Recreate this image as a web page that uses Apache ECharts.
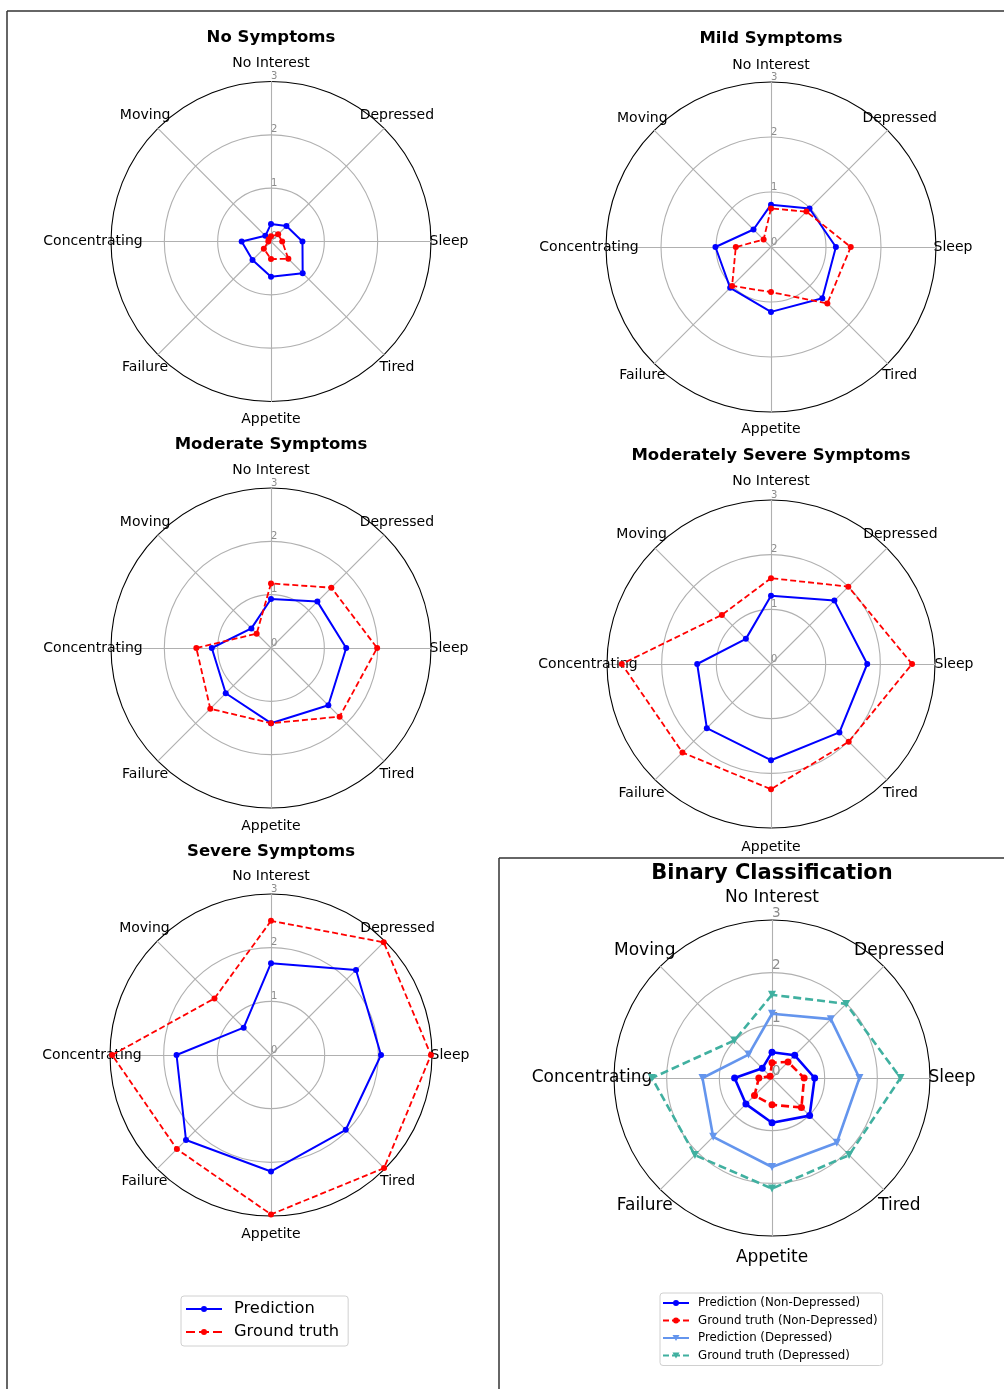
<!DOCTYPE html>
<html><head><meta charset="utf-8">
<script src="https://cdn.jsdelivr.net/npm/echarts@6/dist/echarts.min.js"></script>
<style>html,body{margin:0;padding:0;background:#fff}#c{width:1004px;height:1389px}</style>
</head><body><div id="c"></div>
<script>
// ---- data (canonical clockwise order starting at top) ----
const indicators = ['No Interest','Depressed','Sleep','Tired','Appetite','Failure','Concentrating','Moving'];
const tickLabels = ['0','1','2','3'];
const panelTitles = ['No Symptoms','Mild Symptoms','Moderate Symptoms','Moderately Severe Symptoms','Severe Symptoms','Binary Classification'];
const seriesNames = ['Prediction','Ground truth'];
const binaryNames = ['Prediction (Non-Depressed)','Ground truth (Non-Depressed)','Prediction (Depressed)','Ground truth (Depressed)'];

const noPred   = [0.33, 0.41, 0.59, 0.84, 0.66, 0.49, 0.55, 0.15];
const noGT     = [0.10, 0.19, 0.21, 0.46, 0.33, 0.19, 0.05, 0.06];
const mildPred = [0.77, 0.99, 1.18, 1.32, 1.18, 1.05, 1.01, 0.45];
const mildGT   = [0.70, 0.91, 1.45, 1.45, 0.82, 1.00, 0.64, 0.19];
const modPred  = [0.92, 1.23, 1.41, 1.52, 1.41, 1.20, 1.11, 0.52];
const modGT    = [1.21, 1.60, 1.99, 1.82, 1.41, 1.61, 1.40, 0.38];
const msPred   = [1.25, 1.64, 1.76, 1.77, 1.76, 1.66, 1.35, 0.65];
const msGT     = [1.57, 2.00, 2.58, 2.01, 2.29, 2.29, 2.73, 1.27];
const sevPred  = [1.71, 2.24, 2.05, 1.97, 2.17, 2.24, 1.76, 0.72];
const sevGT    = [2.50, 2.97, 2.98, 2.98, 2.97, 2.48, 2.96, 1.49];
const binPredNon = [0.49, 0.61, 0.81, 1.01, 0.85, 0.70, 0.71, 0.26];
const binGTNon   = [0.29, 0.43, 0.61, 0.79, 0.51, 0.47, 0.25, 0.05];
const binPredDep = [1.22, 1.58, 1.66, 1.74, 1.69, 1.58, 1.32, 0.63];
const binGTDep   = [1.58, 1.99, 2.44, 2.07, 2.10, 2.07, 2.28, 1.01];

// ---- styling ----
const FONT = 'DejaVu Sans';
const BLUE = '#0000ff', RED = '#ff0000', LBLUE = '#6495ed', TEAL = '#40b0a0';
// ECharts radar goes counter-clockwise; reorder so it reads clockwise like the source
const order = [0,7,6,5,4,3,2,1];
const reorder = arr => order.map(k => arr[k]);

const panels = [
  {c:[271,241.5], r:160, gap:18, big:false},
  {c:[771,247],   r:165, gap:17, big:false},
  {c:[271,648],   r:160, gap:18, big:false},
  {c:[771,664],   r:164, gap:19, big:false},
  {c:[271,1055],  r:161, gap:18, big:false},
  {c:[772,1078],  r:158, gap:22, big:true}
];
const titleY = [36, 37, 443, 454, 850, 872];

function radarCfg(p) {
  const nameSize = p.big ? 17 : 14;
  const tickSize = p.big ? 13.5 : 10;
  return {
    center: p.c, radius: p.r, startAngle: 90, shape: 'circle', splitNumber: 3,
    indicator: order.map((k, i) => ({name: indicators[k], min: 0, max: 3, axisLabel: {show: i === 0}})),
    nameGap: p.gap,
    axisName: {color: '#000', fontSize: nameSize, fontFamily: FONT, align: 'center', verticalAlign: 'middle'},
    axisLine: {show: true, lineStyle: {color: '#b0b0b0', width: 1.1}},
    axisTick: {show: false},
    axisLabel: {show: false, color: '#8c8c8c', fontSize: tickSize, fontFamily: FONT, align: 'left', verticalAlign: 'bottom', margin: 0,
      formatter: v => tickLabels[Math.round(v)] || ''},
    splitLine: {lineStyle: {color: ['#b0b0b0','#b0b0b0','#b0b0b0','#000000'], width: 1.1}},
    splitArea: {show: false}
  };
}

function item(name, vals, color, dashed, symbol, size, width, dash) {
  return {
    name, value: reorder(vals), symbol: symbol, symbolSize: size,
    symbolRotate: symbol === 'triangle' ? 180 : 0,
    lineStyle: {color, width, type: dashed ? dash : 'solid'},
    itemStyle: {color}
  };
}

const small = [[noPred,noGT],[mildPred,mildGT],[modPred,modGT],[msPred,msGT],[sevPred,sevGT]];
const series = small.map((pg, i) => ({
  type: 'radar', radarIndex: i, silent: true, z: 2,
  data: [
    item(seriesNames[0], pg[0], BLUE, false, 'circle', 6, 2, 'solid'),
    item(seriesNames[1], pg[1], RED, true, 'circle', 6, 1.8, [6, 3])
  ]
}));
series.push({
  type: 'radar', radarIndex: 5, silent: true, z: 2,
  data: [
    item(binaryNames[0], binPredNon, BLUE, false, 'circle', 7, 2.6, 'solid'),
    item(binaryNames[1], binGTNon, RED, true, 'circle', 7, 2.6, [8, 4]),
    item(binaryNames[2], binPredDep, LBLUE, false, 'triangle', 8, 2.6, 'solid'),
    item(binaryNames[3], binGTDep, TEAL, true, 'triangle', 8, 2.6, [8, 4])
  ]
});

const iconSolid36  = 'path://M0,2 L36,2 L36,4 L0,4 Z M21,3 A3,3 0 1 1 15,3 A3,3 0 1 1 21,3 Z';
const iconDashed36 = 'path://M0,2 L9,2 L9,4 L0,4 Z M13,2 L23,2 L23,4 L13,4 Z M27,2 L36,2 L36,4 L27,4 Z M21,3 A3,3 0 1 1 15,3 A3,3 0 1 1 21,3 Z';
const iconSolid26  = 'path://M0,2 L26,2 L26,4 L0,4 Z M16,3 A3,3 0 1 1 10,3 A3,3 0 1 1 16,3 Z';
const iconDashed26 = 'path://M0,2 L6,2 L6,4 L0,4 Z M9,2 L17,2 L17,4 L9,4 Z M20,2 L26,2 L26,4 L20,4 Z M16,3 A3,3 0 1 1 10,3 A3,3 0 1 1 16,3 Z';
const iconTriS26   = 'path://M0,2 L26,2 L26,4 L0,4 Z M9.5,0 L16.5,0 L13,6 Z';
const iconTriD26   = 'path://M0,2 L6,2 L6,4 L0,4 Z M9,2 L17,2 L17,4 L9,4 Z M20,2 L26,2 L26,4 L20,4 Z M9.5,0 L16.5,0 L13,6 Z';

const option = {
  animation: false,
  backgroundColor: '#fff',
  title: panelTitles.map((t, i) => ({
    text: t, left: panels[i].c[0], top: titleY[i] - (i === 5 ? 9 : 7), textAlign: 'center', padding: 0,
    textStyle: {fontFamily: FONT, fontWeight: 'bold', fontSize: i === 5 ? 21 : 16.5, color: '#000'}
  })),
  radar: panels.map(radarCfg),
  legend: [
    {
      data: [
        {name: seriesNames[0], icon: iconSolid36, itemStyle: {color: BLUE}},
        {name: seriesNames[1], icon: iconDashed36, itemStyle: {color: RED}}
      ],
      orient: 'vertical', left: 181, top: 1296, itemWidth: 36, itemHeight: 6, itemGap: 7,
      padding: [5, 9, 6, 5], borderColor: '#d0d0d0', borderWidth: 1, borderRadius: 3,
      selectedMode: false,
      textStyle: {fontFamily: FONT, fontSize: 16.3, color: '#000', padding: [0, 0, 0, 7]}
    },
    {
      data: [
        {name: binaryNames[0], icon: iconSolid26, itemStyle: {color: BLUE}},
        {name: binaryNames[1], icon: iconDashed26, itemStyle: {color: RED}},
        {name: binaryNames[2], icon: iconTriS26, itemStyle: {color: LBLUE}},
        {name: binaryNames[3], icon: iconTriD26, itemStyle: {color: TEAL}}
      ],
      orient: 'vertical', left: 660, top: 1293, itemWidth: 26, itemHeight: 6, itemGap: 5.5,
      padding: [4, 5, 4, 3], borderColor: '#d0d0d0', borderWidth: 1, borderRadius: 3,
      selectedMode: false,
      textStyle: {fontFamily: FONT, fontSize: 11.8, color: '#000', padding: [0, 0, 0, 4]}
    }
  ],
  graphic: [
    {type: 'line', shape: {x1: 7, y1: 11, x2: 1004, y2: 11}, style: {stroke: '#333', lineWidth: 1.5}},
    {type: 'line', shape: {x1: 7, y1: 11, x2: 7, y2: 1389}, style: {stroke: '#333', lineWidth: 1.5}},
    {type: 'line', shape: {x1: 499, y1: 858, x2: 1004, y2: 858}, style: {stroke: '#333', lineWidth: 1.5}},
    {type: 'line', shape: {x1: 499, y1: 858, x2: 499, y2: 1389}, style: {stroke: '#333', lineWidth: 1.5}}
  ],
  series
};
const chart = echarts.init(document.getElementById('c'), null, {renderer: 'canvas'});
chart.setOption(option);
</script></body></html>
